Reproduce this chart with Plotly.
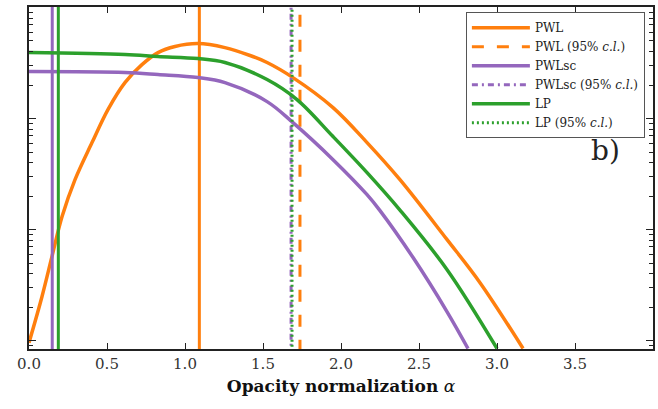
import plotly.graph_objects as go

# ---- data ----
pwl_x = [0.0, 0.083, 0.147, 0.212, 0.295, 0.404, 0.506, 0.615, 0.724, 0.827, 0.936, 1.083,
         1.256, 1.417, 1.526, 1.692, 1.949, 2.167, 2.378, 2.680, 2.891, 3.167]
pwl_y = [0.00096, 0.00249, 0.00571, 0.0131, 0.0282, 0.0608, 0.1205, 0.211, 0.306, 0.393, 0.446, 0.474,
         0.436, 0.370, 0.320, 0.234, 0.1256, 0.0608, 0.0282, 0.00813, 0.00333, 0.00085]

pwlsc_x = [0.0, 0.615, 0.827, 1.083, 1.256, 1.526, 1.692, 1.949, 2.167, 2.25, 2.462, 2.680, 2.814]
pwlsc_y = [0.265, 0.2597, 0.249, 0.234, 0.211, 0.1422, 0.0920, 0.0427, 0.02065, 0.01483, 0.0056, 0.00182, 0.00085]

lp_x = [0.0, 0.615, 0.827, 1.083, 1.256, 1.526, 1.718, 1.949, 2.167, 2.378, 2.680, 3.0]
lp_y = [0.393, 0.377, 0.362, 0.347, 0.320, 0.2246, 0.1483, 0.0689, 0.0326, 0.0150, 0.00436, 0.00085]

best_fit = {"PWL": 1.092, "PWLsc": 0.149, "LP": 0.188}
cl95 = {"PWL": 1.737, "PWLsc": 1.680, "LP": 1.686}

colors = {"PWL": "#ff7f0e", "PWLsc": "#9467bd", "LP": "#2ca02c"}
dashes = {"PWL": "12px,13px", "PWLsc": "6px,4px,2px,4px", "LP": "2px,3px"}

x_ticks = [0.0, 0.5, 1.0, 1.5, 2.0, 2.5, 3.0, 3.5]
x_tick_labels = ["0.0", "0.5", "1.0", "1.5", "2.0", "2.5", "3.0", "3.5"]
y_major = [0.001, 0.01, 0.1, 1.0]

y_lo, y_hi = 1e-4, 10.0

FONT = "DejaVu Serif"
fig = go.Figure()

curves = {"PWL": (pwl_x, pwl_y), "PWLsc": (pwlsc_x, pwlsc_y), "LP": (lp_x, lp_y)}
rank = 1
for name in ["PWL", "PWLsc", "LP"]:
    cx, cy = curves[name]
    c = colors[name]
    fig.add_trace(go.Scatter(x=cx, y=cy, mode="lines", name=name,
                             line=dict(color=c, width=3.5, shape="spline", smoothing=1.0),
                             legendrank=rank))
    fig.add_trace(go.Scatter(x=[best_fit[name], best_fit[name]], y=[y_lo, y_hi], mode="lines",
                             line=dict(color=c, width=3), showlegend=False, hoverinfo="skip"))
    fig.add_trace(go.Scatter(x=[cl95[name], cl95[name]], y=[y_lo, y_hi], mode="lines",
                             name=name + " (95% <i>c.l.</i>)",
                             line=dict(color=c, width=3, dash=dashes[name]),
                             legendrank=rank + 1))
    rank += 2

fig.add_annotation(x=0.951, y=0.58, xref="paper", yref="paper", text="b)", showarrow=False,
                   font=dict(family=FONT, size=28, color="#222"))

fig.update_layout(
    width=658, height=409,
    margin=dict(l=29, r=5, t=7, b=60),
    plot_bgcolor="white", paper_bgcolor="white",
    font=dict(family=FONT, color="#222"),
    showlegend=True,
    legend=dict(x=0.987, y=0.985, xanchor="right", yanchor="top",
                bgcolor="white", bordercolor="#555", borderwidth=1,
                font=dict(family=FONT, size=12), itemwidth=58, tracegroupgap=0),
    xaxis=dict(range=[0, 4.0], tickvals=x_ticks, ticktext=x_tick_labels, automargin=False,
               ticks="inside", ticklen=6, tickcolor="#222", showgrid=False, zeroline=False,
               showline=True, linecolor="#222", linewidth=1.5, mirror="allticks",
               tickfont=dict(family=FONT, size=15, color="#333"),
               title=dict(text="<b>Opacity normalization</b> <i>α</i>",
                          font=dict(family=FONT, size=17, color="#111"), standoff=8)),
    yaxis=dict(type="log", range=[-3.075, 0.005], tickvals=y_major, showticklabels=False,
               automargin=False,
               ticks="inside", ticklen=7, tickcolor="#222", showgrid=False, zeroline=False,
               showline=True, linecolor="#222", linewidth=1.5, mirror="allticks",
               minor=dict(ticks="inside", ticklen=4, tickcolor="#222", dtick="D1", showgrid=False)),
)

fig.write_html("out.html", config={"displayModeBar": False},
               post_script="document.body.style.margin='0';document.body.style.overflow='hidden';")
